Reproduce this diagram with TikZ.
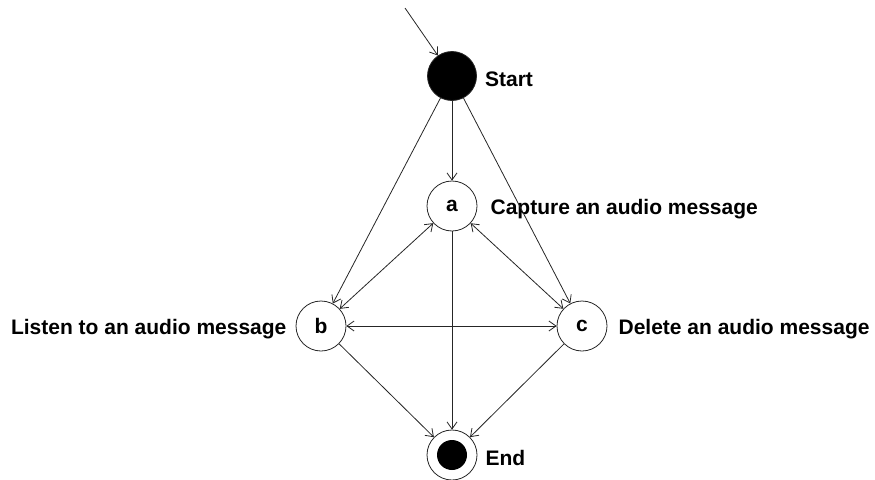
\documentclass[tikz,border=0pt]{standalone}
\usepackage{fontspec}
\setmainfont{Liberation Sans}
\usetikzlibrary{arrows.meta,positioning}
\tikzset{
  state/.style={circle, draw=black!85, line width=0.8pt, minimum size=50pt, inner sep=0pt,
    font=\bfseries\fontsize{21}{24}\selectfont},
  startstate/.style={state, fill=black, minimum size=49pt},
  endstate/.style={state, path picture={\fill (path picture bounding box.center) circle (15pt);}},
  lbl/.style={inner sep=0pt, yshift=-3pt, font=\bfseries\fontsize{21}{24}\selectfont},
  trans/.style={line width=0.8pt, draw=black!85},
  >={Straight Barb[length=7pt,width=10pt]}
}
\begin{document}
\begin{tikzpicture}[x=1pt,y=-1pt]
        \useasboundingbox (0,0) rectangle (875,479);
        \node[startstate] (start) at (452,76) {};
        \node[state] (a) at (452,206) {a};
        \node[state] (b) at (321,326) {b};
        \node[state] (c) at (582,326) {c};
        \node[endstate] (end) at (452,455) {};
        \coordinate (in) at (405,8);
        % state names
        \node[lbl, right=8pt of start] (startlbl) {Start};
        \node[lbl, right=13pt of a] (albl) {Capture an audio message};
        \node[lbl, left=9pt of b] (blbl) {Listen to an audio message};
        \node[lbl, right=11pt of c] (clbl) {Delete an audio message};
        \node[lbl, right=8pt of end] (endlbl) {End};
        % transitions
        \draw[trans, ->] (in) to (start);
        \draw[trans, ->] (start) to (a);
        \draw[trans, ->] (start) to (b);
        \draw[trans, ->] (start) to (c);
        \draw[trans, <->] (a) to (b);
        \draw[trans, <->] (a) to (c);
        \draw[trans, <->] (b) to (c);
        \draw[trans, ->] (a) to (end);
        \draw[trans, ->] (b) to (end);
        \draw[trans, ->] (c) to (end);
\end{tikzpicture}
\end{document}
